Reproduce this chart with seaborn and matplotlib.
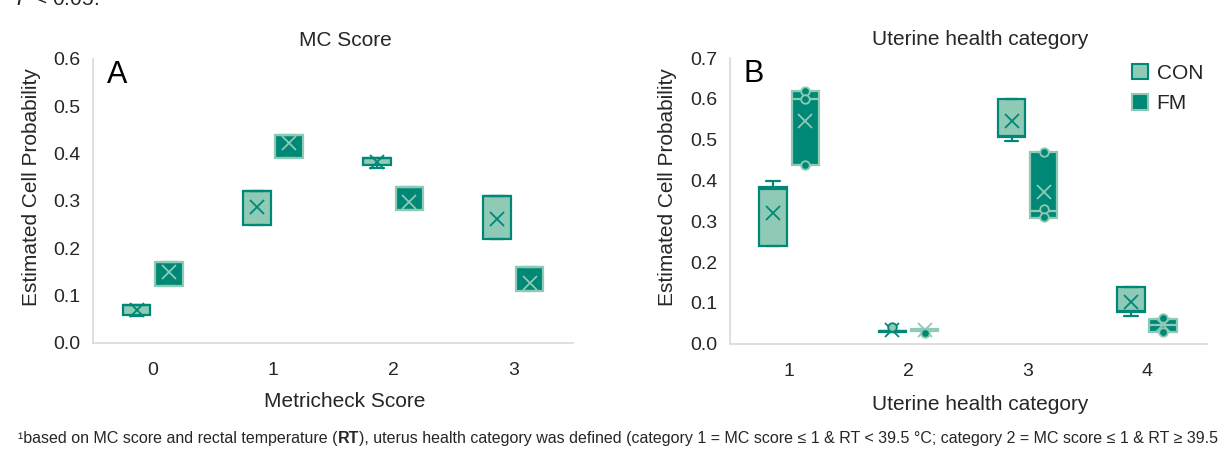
import matplotlib
matplotlib.use("Agg")
import matplotlib.pyplot as plt
from matplotlib.patches import Patch
from matplotlib.ticker import FormatStrFormatter
import numpy as np
import pandas as pd
import seaborn as sns

sns.set_style("white")
plt.rcParams['font.family'] = ['Liberation Sans', 'DejaVu Sans']

groups = ['CON', 'FM']
light = '#8ecab6'
dark = '#008876'
fill = {'CON': light, 'FM': dark}
edge = {'CON': dark, 'FM': light}
grey = '#d9d9d9'
ink = '#262626'

# %% panel A - MC score (box stats)
mc_cats = ['0', '1', '2', '3']
mc_con_min = [0.057, 0.25, 0.370, 0.22]
mc_con_q1 = [0.060, 0.25, 0.375, 0.22]
mc_con_med = [0.080, 0.32, 0.390, 0.31]
mc_con_q3 = [0.080, 0.32, 0.390, 0.31]
mc_con_max = [0.080, 0.32, 0.390, 0.31]
mc_con_mean = [0.070, 0.288, 0.382, 0.262]

mc_fm_min = [0.12, 0.39, 0.28, 0.11]
mc_fm_q1 = [0.12, 0.39, 0.28, 0.11]
mc_fm_med = [0.17, 0.44, 0.33, 0.16]
mc_fm_q3 = [0.17, 0.44, 0.33, 0.16]
mc_fm_max = [0.17, 0.44, 0.33, 0.16]
mc_fm_mean = [0.150, 0.423, 0.298, 0.127]

# %% panel B - uterine health category
ut_cats = ['1', '2', '3', '4']
ut_con_min = [0.24, 0.030, 0.496, 0.068]
ut_con_q1 = [0.24, 0.030, 0.506, 0.078]
ut_con_med = [0.38, 0.031, 0.510, 0.080]
ut_con_q3 = [0.385, 0.032, 0.600, 0.139]
ut_con_max = [0.40, 0.032, 0.600, 0.139]
ut_con_mean = [0.320, 0.033, 0.547, 0.103]

ut_fm_min = [0.437, 0.032, 0.308, 0.030]
ut_fm_q1 = [0.437, 0.032, 0.308, 0.030]
ut_fm_med = [0.600, 0.034, 0.325, 0.045]
ut_fm_q3 = [0.620, 0.037, 0.469, 0.061]
ut_fm_max = [0.620, 0.037, 0.469, 0.061]
ut_fm_mean = [0.547, 0.033, 0.372, 0.046]

# single observations shown as circles
ut_pt_cat = ['1', '1', '1', '2', '2', '3', '3', '3', '4', '4']
ut_pt_group = ['FM', 'FM', 'FM', 'CON', 'FM', 'FM', 'FM', 'FM', 'FM', 'FM']
ut_pt_value = [0.620, 0.600, 0.437, 0.042, 0.027, 0.469, 0.330, 0.310, 0.062, 0.030]

box_width = 0.54


def long_table(cats, stats):
    rows = []
    for g, cols in stats.items():
        for i, c in enumerate(cats):
            for col in cols:
                rows.append((c, g, col[i]))
    return pd.DataFrame(rows, columns=['cat', 'group', 'value'])


def draw(ax, cats, stats, means, pts=None):
    df = long_table(cats, stats)
    for g in groups:
        sns.boxplot(data=df[df.group == g], x='cat', y='value', hue='group',
                    order=cats, hue_order=groups, palette=fill, saturation=1,
                    linecolor=edge[g], linewidth=1.6, width=box_width, gap=0.15,
                    dodge=True, whis=(0, 100), showfliers=False, legend=False, ax=ax)
    dm = pd.DataFrame([(c, g, means[g][i]) for g in groups for i, c in enumerate(cats)],
                      columns=['cat', 'group', 'mean'])
    n_before = len(ax.lines)
    sns.pointplot(data=dm, x='cat', y='mean', hue='group', order=cats, hue_order=groups,
                  palette=edge, markers='x', linestyle='none', dodge=box_width / 2,
                  errorbar=None, legend=False, ax=ax)
    for ln in ax.lines[n_before:]:
        ln.set_markersize(10)
        ln.set_markeredgewidth(1.3)
        ln.set_zorder(5)
    if pts is not None:
        off = {'CON': -box_width / 4, 'FM': box_width / 4}
        pc, pg, pv = pts
        for g in groups:
            xs = [cats.index(c) + off[g] for c, gg in zip(pc, pg) if gg == g]
            ys = [v for v, gg in zip(pv, pg) if gg == g]
            if xs:
                ax.scatter(xs, ys, s=38, facecolor=fill[g], edgecolor=edge[g],
                           linewidth=1.3, zorder=6)


fig = plt.figure(figsize=(12.2, 4.5), dpi=100)
axA = fig.add_axes([0.076, 0.238, 0.394, 0.631])
axB = fig.add_axes([0.598, 0.236, 0.391, 0.635])

draw(axA, mc_cats,
     {'CON': [mc_con_min, mc_con_q1, mc_con_med, mc_con_q3, mc_con_max],
      'FM': [mc_fm_min, mc_fm_q1, mc_fm_med, mc_fm_q3, mc_fm_max]},
     {'CON': mc_con_mean, 'FM': mc_fm_mean})
draw(axB, ut_cats,
     {'CON': [ut_con_min, ut_con_q1, ut_con_med, ut_con_q3, ut_con_max],
      'FM': [ut_fm_min, ut_fm_q1, ut_fm_med, ut_fm_q3, ut_fm_max]},
     {'CON': ut_con_mean, 'FM': ut_fm_mean},
     (ut_pt_cat, ut_pt_group, ut_pt_value))

for ax, top, title, xlab, letter, xl, ly in [
        (axA, 0.6, 'MC Score', 'Metricheck Score', 'A', -0.172, -0.108),
        (axB, 0.7, 'Uterine health category', 'Uterine health category', 'B', -0.18, -0.11)]:
    ax.set_ylim(0, top)
    ax.set_yticks(np.arange(0, top + 0.001, 0.1))
    ax.yaxis.set_major_formatter(FormatStrFormatter('%.1f'))
    ax.set_xlim(-0.5, 3.5)
    ax.set_xticks(np.arange(-0.5, 4, 1), minor=True)
    for s in ['top', 'right']:
        ax.spines[s].set_visible(False)
    for s in ['left', 'bottom']:
        ax.spines[s].set_color(grey)
        ax.spines[s].set_linewidth(1.2)
    ax.tick_params(axis='x', which='major', length=0, pad=14, labelsize=14, labelcolor=ink)
    ax.tick_params(axis='x', which='minor', length=6, color=grey, width=1.2)
    ax.tick_params(axis='y', length=5, color=grey, width=1.2, pad=4, labelsize=14, labelcolor=ink)
    ax.set_xlabel(xlab, fontsize=15, color=ink)
    ax.set_ylabel('Estimated Cell Probability', fontsize=15, color=ink)
    ax.xaxis.set_label_coords(0.525, xl)
    ax.yaxis.set_label_coords(ly, 0.55)
    ax.text(0.525, 1.065, title, transform=ax.transAxes, ha='center', va='center',
            fontsize=15, color=ink)
    ax.text(0.03, 0.915, letter, transform=ax.transAxes, ha='left', va='baseline',
            fontsize=22, color='black')

handles = [Patch(facecolor=fill[g], edgecolor=edge[g], linewidth=1.5) for g in groups]
axB.legend(handles, groups, loc='upper right', frameon=False, fontsize=15,
           handlelength=0.8, handleheight=0.8, handletextpad=0.4, labelspacing=0.55,
           borderaxespad=0.0, bbox_to_anchor=(1.01, 1.01))

# clipped line from the text above the figure
fig.text(16 / 1220, 1 - 5 / 450, '$P$ < 0.05.', fontsize=15, va='baseline', color=ink)

# footnote with bold RT
fig.canvas.draw()
r = fig.canvas.get_renderer()
note_parts = [('\u00b9based on MC score and rectal temperature (', 'normal'),
              ('RT', 'bold'),
              ('), uterus health category was defined (category 1 = MC score \u2264 1 & RT < 39.5 \u00b0C; '
               'category 2 = MC score \u2264 1 & RT \u2265 39.5', 'normal')]
x = 18 / 1220
for piece, weight in note_parts:
    t = fig.text(x, 1 - 443 / 450, piece, fontsize=11.5, fontweight=weight,
                 va='baseline', color=ink)
    bb = t.get_window_extent(renderer=r)
    x = bb.x1 / fig.bbox.width

fig.savefig('out.png', dpi=100)
